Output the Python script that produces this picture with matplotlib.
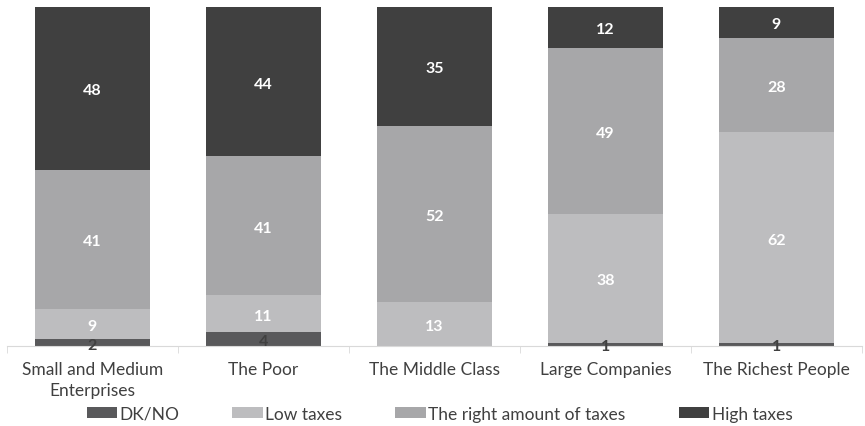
import matplotlib.pyplot as plt
import numpy as np

categories = ["Small and Medium\nEnterprises", "The Poor", "The Middle Class",
              "Large Companies", "The Richest People"]
series_names = ["DK/NO", "Low taxes", "The right amount of taxes", "High taxes"]
dk_no = [2, 4, 0, 1, 1]
low_taxes = [9, 11, 13, 38, 62]
right_amount = [41, 41, 52, 49, 28]
high_taxes = [48, 44, 35, 12, 9]

colors = ["#59595b", "#bdbdbf", "#a7a7a9", "#404040"]
label_colors = ["#404040", "white", "white", "white"]

plt.rcParams['font.family'] = ['Lato', 'DejaVu Sans']

fig = plt.figure(figsize=(8.65, 4.27), dpi=100)
ax = fig.add_axes([7 / 865, 1 - 347 / 427, 855 / 865, 339 / 427])

x = np.arange(len(categories))
bottom = np.zeros(len(categories))
for name, vals, col, lcol in zip(series_names,
                                 [dk_no, low_taxes, right_amount, high_taxes],
                                 colors, label_colors):
    vals = np.array(vals, dtype=float)
    ax.bar(x, vals, width=0.667, bottom=bottom, color=col, label=name)
    for xi, b, v in zip(x, bottom, vals):
        if v > 0:
            ax.text(xi, b + v / 2 - 0.6, f"{int(v)}", ha='center', va='center',
                    color=lcol, fontsize=11.5, fontweight='bold')
    bottom += vals

ax.set_xlim(-0.5, len(categories) - 0.5)
ax.set_ylim(0, 100)
ax.set_yticks([])
for s in ['top', 'right', 'left']:
    ax.spines[s].set_visible(False)
ax.spines['bottom'].set_color('#d9d9d9')
ax.set_xticks(x)
ax.set_xticklabels(categories, fontsize=12.5, color='#404040', linespacing=1.35)
ax.tick_params(axis='x', length=0, pad=11)
# small separators between categories
ax.set_xticks(np.arange(len(categories) + 1) - 0.5, minor=True)
ax.tick_params(axis='x', which='minor', length=5, color='#d9d9d9')

handles, labels = ax.get_legend_handles_labels()
fig.legend(handles, labels, loc='center', bbox_to_anchor=(0.508, 1 - 415 / 427),
           ncol=4, frameon=False, fontsize=12.5, handlelength=1.75, handleheight=0.6,
           columnspacing=3.05, handletextpad=0.15, labelcolor='#404040')

fig.savefig("out.png", dpi=100)
